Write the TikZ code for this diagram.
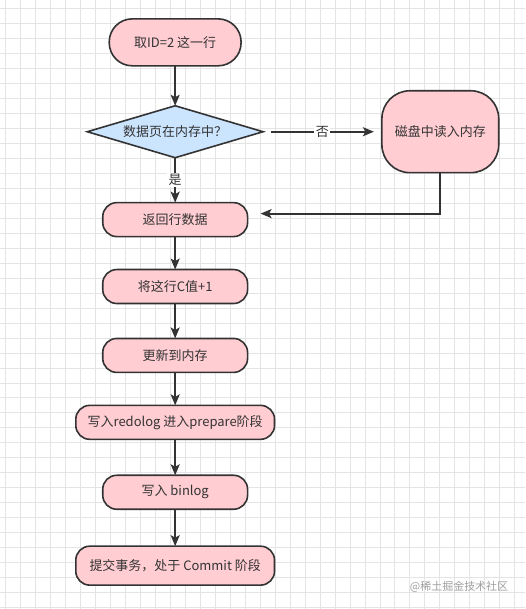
\documentclass[tikz,border=0pt]{standalone}
\usepackage{fontspec}
\setmainfont{Noto Sans CJK SC}
\usetikzlibrary{positioning,shapes.geometric,arrows.meta}
\definecolor{boxpink}{HTML}{FFCDD2}
\definecolor{boxblue}{HTML}{CCE5FF}
\definecolor{edge}{HTML}{333333}
\definecolor{gridline}{HTML}{E4E4E4}
\newcommand{\boxfont}{\fontsize{13}{15}\selectfont}
\begin{document}
\begin{tikzpicture}[x=1pt, y=-1pt,
        block/.style={rectangle, draw=edge, line width=1.6pt, outer sep=0pt, fill=boxpink, rounded corners=14pt, minimum width=145pt, minimum height=34pt, text=edge, font=\boxfont},
        decision/.style={diamond, aspect=3.38, draw=edge, line width=1.6pt, outer sep=0pt, fill=boxblue, minimum width=176pt, minimum height=52pt, inner sep=0pt, text=edge, font=\boxfont},
        arrow/.style={-{Stealth[length=11pt, width=9pt, inset=2.5pt]}, line width=1.8pt, draw=edge},
        lbl/.style={fill=white, inner sep=1.5pt, text=edge, font=\boxfont},
        node distance=34pt
    ]
    % Background grid
    \fill[white] (0,0) rectangle (525,609);
    \foreach \gx in {5,20,...,520} \draw[gridline, line width=0.8pt] (\gx,0) -- (\gx,609);
    \foreach \gy in {8,23,...,608} \draw[gridline, line width=0.8pt] (0,\gy) -- (525,\gy);
    \useasboundingbox (0,0) rectangle (525,609);
    % Main column
    \node[block, minimum width=132pt, minimum height=47pt, rounded corners=23pt] (fetch) at (175,42) {取ID=2 这一行};
    \node[decision, below=40pt of fetch] (inmem) {数据页在内存中？};
    \node[block, below=45pt of inmem] (ret) {返回行数据};
    \node[block, below=33pt of ret] (incr) {将这行C值+1};
    \node[block, below=35pt of incr] (upd) {更新到内存};
    \node[block, minimum width=199pt, below=33pt of upd] (redo) {写入redolog 进入prepare阶段};
    \node[block, below=36pt of redo] (binlog) {写入 binlog};
    \node[block, minimum width=199pt, minimum height=39pt, below=37pt of binlog] (commit) {提交事务，处于 Commit 阶段};
    % Side branch
    \node[block, minimum width=117pt, minimum height=82pt, rounded corners=28pt, right=119pt of inmem] (disk) {磁盘中读入内存};
    \coordinate (back) at ([xshift=13pt, yshift=6pt]ret.east);
    % Arrows
    \draw[arrow] (fetch) -- (inmem);
    \draw[arrow] (inmem) -- node[lbl] {是} (ret);
    \draw[arrow, shorten <=8pt, shorten >=8pt] (inmem) -- node[lbl] {否} (disk);
    \draw[arrow] (disk) |- (back);
    \draw[arrow] (ret) -- (incr);
    \draw[arrow] (incr) -- (upd);
    \draw[arrow] (upd) -- (redo);
    \draw[arrow] (redo) -- (binlog);
    \draw[arrow] (binlog) -- (commit);
    % Watermark
    \node[anchor=east, text=gray!75, font=\fontsize{11}{13}\selectfont] (mark) at (512,587) {@稀土掘金技术社区};
\end{tikzpicture}
\end{document}
